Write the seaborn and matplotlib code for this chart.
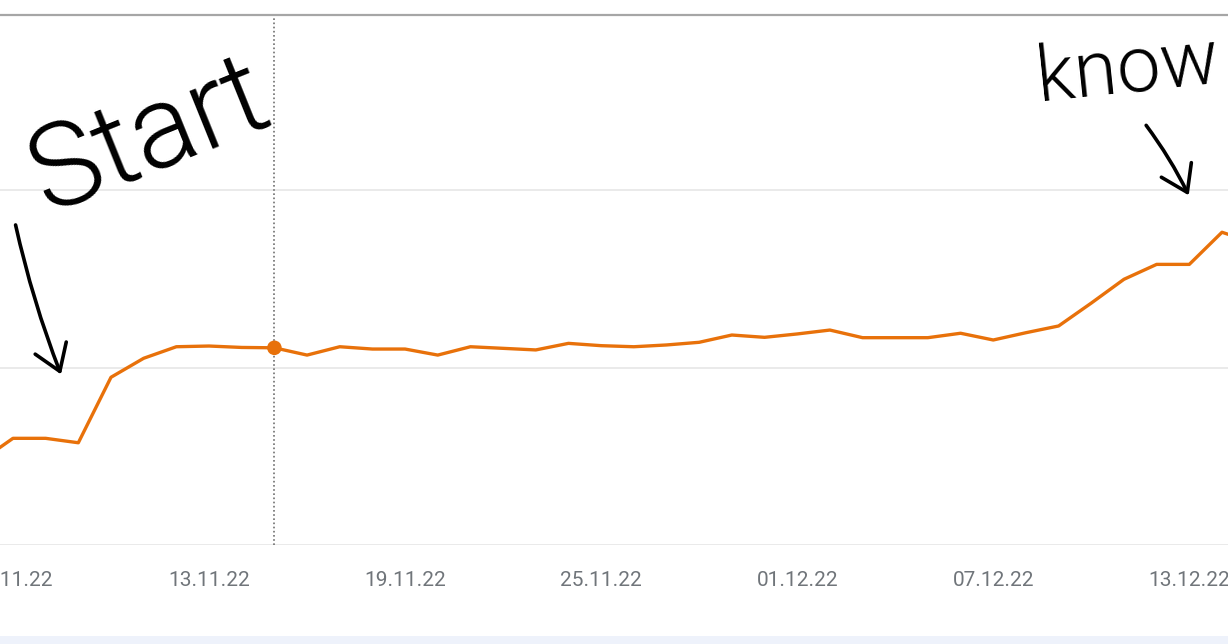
import pandas as pd
import matplotlib.pyplot as plt
import matplotlib.dates as mdates
from matplotlib.patches import Rectangle
import seaborn as sns

# daily values (06.11.22 .. 15.12.22)
dates = pd.date_range("2022-11-06", "2022-12-15", freq="D")
values = [
    47.2, 60.1, 60.1, 57.6, 94.5, 105.2, 111.7, 112.1, 111.3, 111.1,
    107.0, 111.7, 110.4, 110.4, 107.0, 111.7, 110.8, 109.9, 113.6, 112.3,
    111.7, 112.7, 114.2, 118.3, 117.0, 118.9, 121.1, 116.8, 116.8, 116.8,
    119.3, 115.5, 119.6, 123.4, 136.3, 149.7, 158.1, 158.1, 176.2, 170.1,
]
highlight_day = pd.Timestamp("2022-11-15")
tick_days = pd.date_range("2022-11-07", "2022-12-13", freq="6D")

df = pd.DataFrame({"date": dates, "value": values})

sns.set_style("white")
plt.rcParams["font.family"] = ["Roboto", "DejaVu Sans"]

fig = plt.figure(figsize=(12.28, 6.44), dpi=100)
ax = fig.add_axes([0, 99 / 644, 1, 530 / 644])

orange = "#e8710a"
sns.lineplot(data=df, x="date", y="value", color=orange, linewidth=2.4, ax=ax)

# highlighted point with the hover line
hv = df.loc[df["date"] == highlight_day, "value"].iloc[0]
ax.axvline(highlight_day, color="#6f6f6f", linestyle=(0, (1, 1.5)), linewidth=1.2, zorder=1)
ax.scatter([highlight_day], [hv], s=110, color=orange, zorder=5, edgecolor="none")

ax.set_xlim(pd.Timestamp("2022-11-06") + pd.Timedelta(days=0.603),
            pd.Timestamp("2022-12-14") + pd.Timedelta(days=0.184))
ax.set_ylim(0, 298.6)
ax.set_yticks([0, 100, 200])
ax.set_yticklabels([])
ax.grid(axis="y", color="#e6e6e6", linewidth=1.2)
ax.grid(axis="x", visible=False)
ax.set_xticks(tick_days)
ax.xaxis.set_major_formatter(mdates.DateFormatter("%d.%m.%y"))
ax.tick_params(axis="x", length=0, pad=19, labelsize=15, labelcolor="#70757a")
ax.tick_params(axis="y", length=0)
ax.set_xlabel("")
ax.set_ylabel("")
for side in ["left", "right", "bottom"]:
    ax.spines[side].set_visible(False)
ax.spines["top"].set_color("#a6a6a6")
ax.spines["top"].set_linewidth(1.6)

# handwritten notes
hand = dict(color="black", family=["Roboto", "DejaVu Sans"], fontweight=300)
ax.text(0.122, 0.77, "Start", transform=ax.transAxes, fontsize=84,
        rotation=22, ha="center", va="center", **hand)
ax.text(0.918, 0.895, "know", transform=ax.transAxes, fontsize=56,
        rotation=6, ha="center", va="center", **hand)
arrow = dict(arrowstyle="->,head_length=0.9,head_width=0.6", color="black",
             lw=2.6, mutation_scale=20)
ax.annotate("", xy=(0.0505, 0.317), xytext=(0.0122, 0.609), xycoords="axes fraction",
            arrowprops=dict(connectionstyle="arc3,rad=0.04", **arrow))
ax.annotate("", xy=(0.969, 0.655), xytext=(0.932, 0.796), xycoords="axes fraction",
            arrowprops=dict(connectionstyle="arc3,rad=-0.05", **arrow))

# light strip at the bottom edge
fig.patches.append(Rectangle((0, 0), 1, 8 / 644, transform=fig.transFigure,
                             facecolor="#eef2fb", edgecolor="none"))

fig.savefig("out.png", dpi=100)
